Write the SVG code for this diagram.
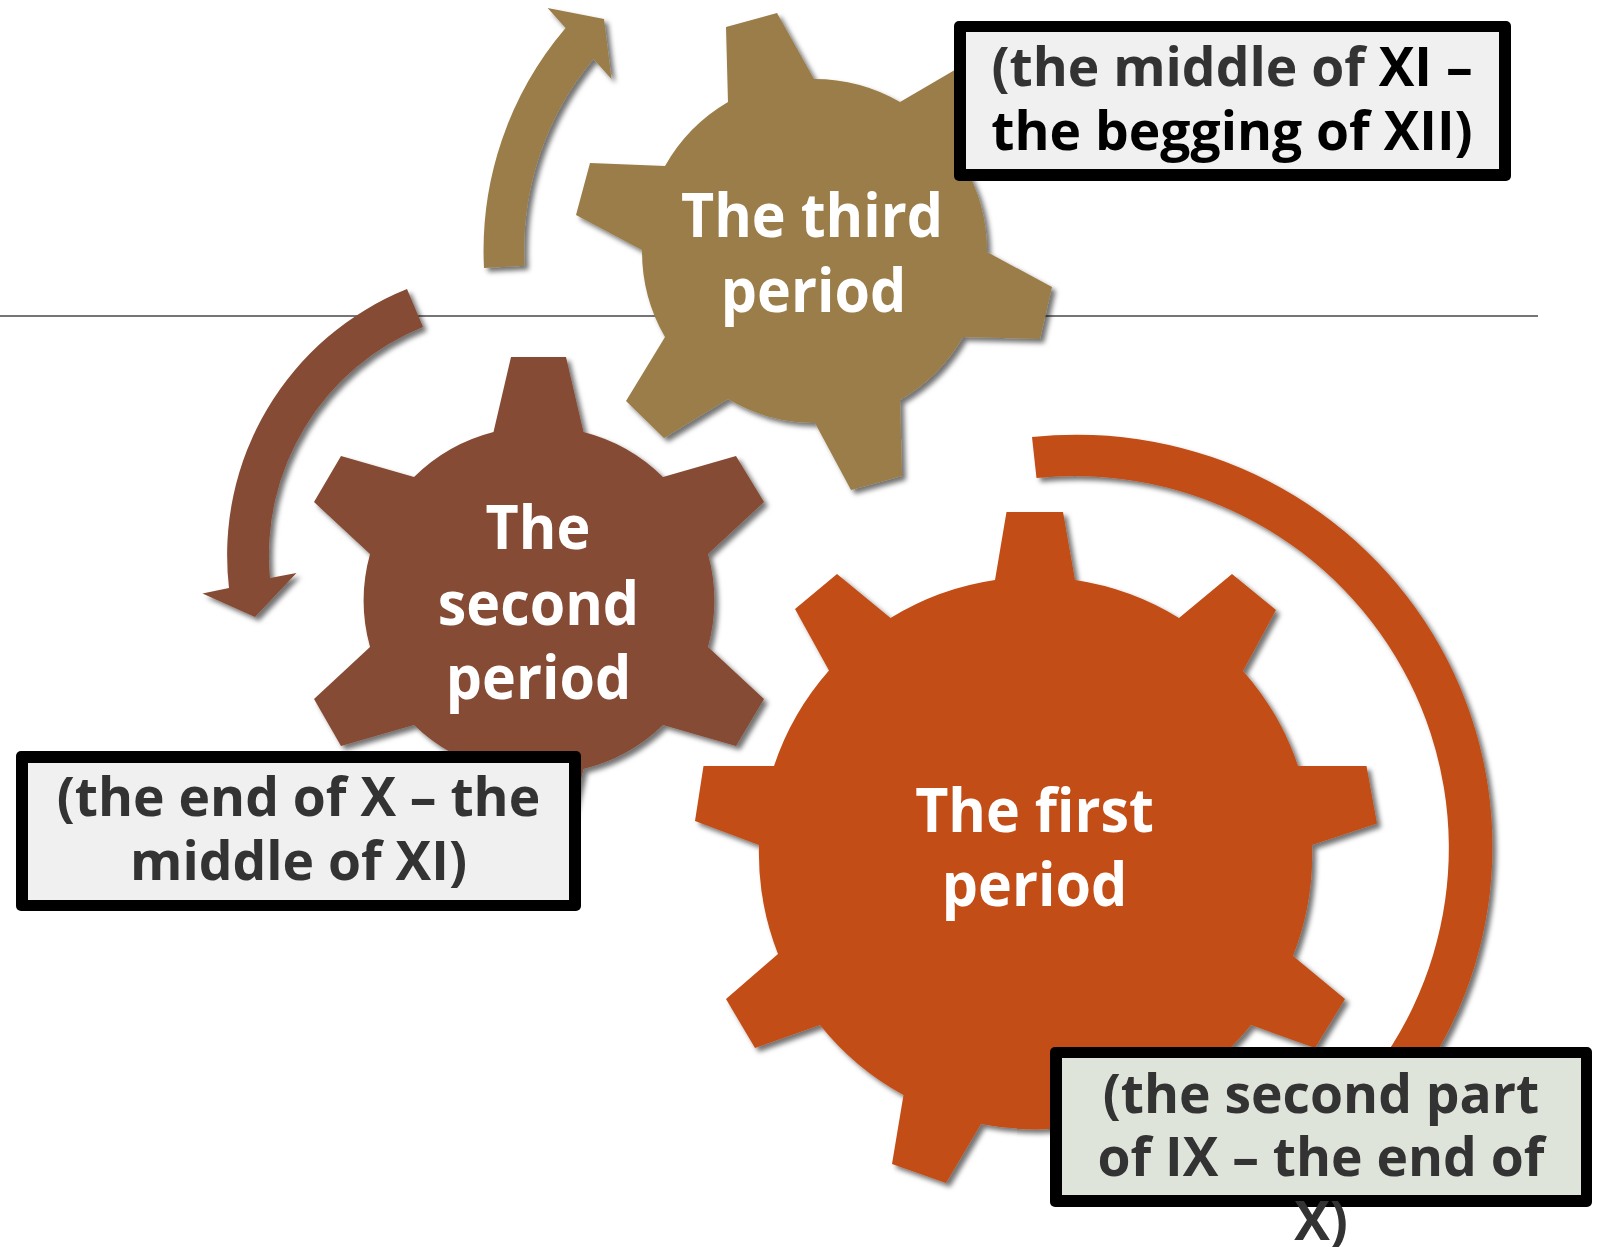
<svg xmlns="http://www.w3.org/2000/svg" width="1602" height="1247" viewBox="0 0 1602 1247">
<defs>
<filter id="sh" x="-10%" y="-10%" width="120%" height="120%"><feDropShadow dx="4" dy="4" stdDeviation="2.5" flood-color="#000" flood-opacity="0.55"/></filter>
</defs>
<style>
.g1{fill:#c24d14;filter:url(#sh)}
.g2{fill:#864b34;filter:url(#sh)}
.g3{fill:#9a7d49;filter:url(#sh)}
.t{font-family:"Open Sans",sans-serif;font-weight:700;text-anchor:middle}
.n{font-size:61px;fill:#fff}
.b{font-size:53.4px;fill:#333}
.k{fill:#000}
</style>
<rect width="1602" height="1247" fill="#fff"/>
<g id="connectors">
<line x1="0" y1="316" x2="1538" y2="316" stroke="#757575" stroke-width="2"/>
<path class="g1" d="M1032,437 A416,412 0 0 1 1404.5,1100 L1350,1100 A374,372 0 0 0 1036.5,478 Z"/>
<path class="g2" d="M407,289 A287,287 0 0 0 229,588 L202.5,593.5 L255,617 L296.5,573 L270,578 A246,246 0 0 1 423,327 Z"/>
<path class="g3" d="M484,268 A343,343 0 0 1 565.6,28 L547.6,8 L604,19 L611.5,79 L593.5,59 A297,297 0 0 0 524.6,265.7 Z"/>
</g>
<g id="third-gear">
<path class="g3" d="M726,27 L777,13 L814,79 A172,172 0 0 1 900,102 L965,64 L1003,101 L964,165 A172,172 0 0 1 987,252 L1052,287 L1040,339 L963,337 A172,172 0 0 1 900,400 L902,476 L851,490 L815,423 A172,172 0 0 1 728,399 L664,438 L626,401 L665,337 A172,172 0 0 1 642,250 L576,215 L590,163 L665,166 A172,172 0 0 1 728,102 Z"/>
<text class="t n" transform="translate(812,236.5) scale(.94,1)">The third</text>
<text class="t n" transform="translate(813.5,311.5) scale(.94,1)">period</text>
</g>
<g id="second-gear">
<path class="g2" d="M493.5,432 L511,357 L566,357 L583.5,432 A175,175 0 0 1 663,477 L736,456 L764,502 L708,554 A175,175 0 0 1 708,647 L764,699 L736,746 L663,725 A175,175 0 0 1 583.5,769 L566,844 L511,844 L493.5,769 A175,175 0 0 1 414,725 L341,746 L314,699 L370,647 A175,175 0 0 1 370,554 L314,502 L341,456 L414,477 A175,175 0 0 1 493.5,432 Z"/>
<text class="t n" transform="translate(538,549) scale(.94,1)">The</text>
<text class="t n" transform="translate(538.5,624.5) scale(.94,1)">second</text>
<text class="t n" transform="translate(538.5,699) scale(.94,1)">period</text>
</g>
<g id="first-gear">
<path class="g1" d="M995,580 L1006.5,512 L1063,512 L1075,580 A276,276 0 0 1 1179,618 L1232,574 L1276,610 L1243,671 A276,276 0 0 1 1298,766 L1366.5,766 L1377,823.5 L1312,845 A276,276 0 0 1 1293,956 L1345,999 L1315,1048 L1251,1025 A276,276 0 0 1 1166.5,1095 L1178,1164 L1124,1183 L1089,1124 A276,276 0 0 1 981,1124 L946,1183 L892,1164 L903.5,1095 A276,276 0 0 1 820,1025 L755,1048 L726,999 L778,954 A276,276 0 0 1 759,845 L695,821 L703.5,766 L774,766 A276,276 0 0 1 829,670.5 L795,609 L837,574 L890.5,618 A276,276 0 0 1 995,580 Z"/>
<text class="t n" transform="translate(1034.5,832) scale(.94,1)">The first</text>
<text class="t n" transform="translate(1034.5,906) scale(.94,1)">period</text>
</g>
<g id="box-third">
<rect x="954" y="21" width="557" height="160" rx="5" fill="#000"/>
<rect x="966" y="32" width="533" height="137" fill="#f0f0f0"/>
<text class="t b" x="1232" y="86">(the middle of <tspan class="k">XI –</tspan></text>
<text class="t b k" x="1232" y="150">the begging of XII)</text>
</g>
<g id="box-second">
<rect x="16" y="751" width="565" height="160" rx="5" fill="#000"/>
<rect x="28" y="763" width="541" height="137" fill="#f0f0f0"/>
<text class="t b" x="298.5" y="816">(the end of X – the</text>
<text class="t b" x="298.5" y="880">middle of XI)</text>
</g>
<g id="box-first">
<rect x="1050" y="1047" width="542" height="160" rx="5" fill="#000"/>
<rect x="1062" y="1058" width="519" height="137" fill="#dfe4db"/>
<text class="t b" x="1321" y="1113">(the second part</text>
<text class="t b" x="1321" y="1176">of IX – the end of</text>
<text class="t b" x="1321" y="1240">X)</text>
</g>
</svg>
